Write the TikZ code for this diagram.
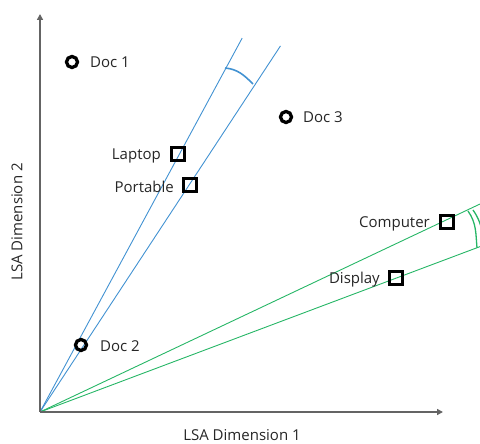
\documentclass[tikz,border=0pt]{standalone}
\usepackage{fontspec}
\setmainfont{Open Sans}
\usetikzlibrary{arrows.meta,calc}
\definecolor{vecblue}{RGB}{66,146,210}
\definecolor{vecgreen}{RGB}{38,182,102}
\definecolor{axisgray}{RGB}{100,100,100}
\tikzset{
  axis/.style={draw=axisgray, line width=1.6pt, -{Triangle[length=6pt,width=6pt]}},
  docpt/.style={circle, draw=black, line width=3.3pt, minimum size=11pt, inner sep=0pt},
  termpt/.style={rectangle, draw=black, line width=3.5pt, minimum size=13pt, inner sep=0pt},
  lbl/.style={font=\fontsize{15}{17}\selectfont, text=black!85, inner sep=0pt},
  bluevec/.style={draw=vecblue, line width=0.9pt},
  greenvec/.style={draw=vecgreen, line width=0.9pt},
  anglemark/.style={line width=1.6pt},
}
\begin{document}
\begin{tikzpicture}[x=1pt, y=1pt]
  \useasboundingbox (0,0) rectangle (480,444);
  \coordinate (O) at (40,32);
  \coordinate (ytip) at (40,430);
  \coordinate (xtip) at (443,32);

  % term vectors and their angle marks
  \begin{scope}
    \clip (0,0) rectangle (480,444);
    \coordinate (b1) at ($(O)+(61.6:425)$);
    \coordinate (b2) at ($(O)+(56.7:438)$);
    \coordinate (g1) at ($(O)+(25.3:500)$);
    \coordinate (g2) at ($(O)+(20.6:500)$);
    \draw[bluevec] (O) -- (b1);
    \draw[bluevec] (O) -- (b2);
    \draw[greenvec] (O) -- (g1);
    \draw[greenvec] (O) -- (g2);
    \coordinate (ba) at (225,376);
    \coordinate (bb) at (253,360);
    \draw[anglemark, draw=vecblue] (ba) to[out=-5, in=135] (bb);
    \coordinate (ga) at (468,233);
    \coordinate (gb) at (477,196);
    \coordinate (gc) at (473,234);
    \coordinate (gd) at (484,196);
    \draw[anglemark, draw=vecgreen, line width=1.3pt] (ga) to[out=-55, in=95] (gb);
    \draw[anglemark, draw=vecgreen, line width=1.3pt] (gc) to[out=-55, in=95] (gd);
  \end{scope}

  % axes
  \draw[axis] (O) -- (ytip);
  \draw[axis] (O) -- (xtip);
  \node[lbl] (xlab) at (242,9) {LSA Dimension 1};
  \node[lbl, rotate=90] (ylab) at (17,222) {LSA Dimension 2};

  % documents
  \node[docpt] (doc1) at (72,382) {};
  \node[docpt] (doc3) at (286,327) {};
  \node[docpt] (doc2) at (81,99) {};
  \node[lbl, anchor=west] (doc1l) at (90,382) {Doc 1};
  \node[lbl, anchor=west] (doc3l) at (303,327) {Doc 3};
  \node[lbl, anchor=west] (doc2l) at (100,98) {Doc 2};

  % terms
  \node[termpt] (laptop) at (178,290) {};
  \node[termpt] (portable) at (190,259) {};
  \node[termpt] (computer) at (447,222) {};
  \node[termpt] (display) at (396,166) {};
  \node[lbl, anchor=east] (laptopl) at (161,288) {Laptop};
  \node[lbl, anchor=east] (portablel) at (174,257) {Portable};
  \node[lbl, anchor=east] (computerl) at (430,220) {Computer};
  \node[lbl, anchor=east] (displayl) at (380,164) {Display};
\end{tikzpicture}
\end{document}
